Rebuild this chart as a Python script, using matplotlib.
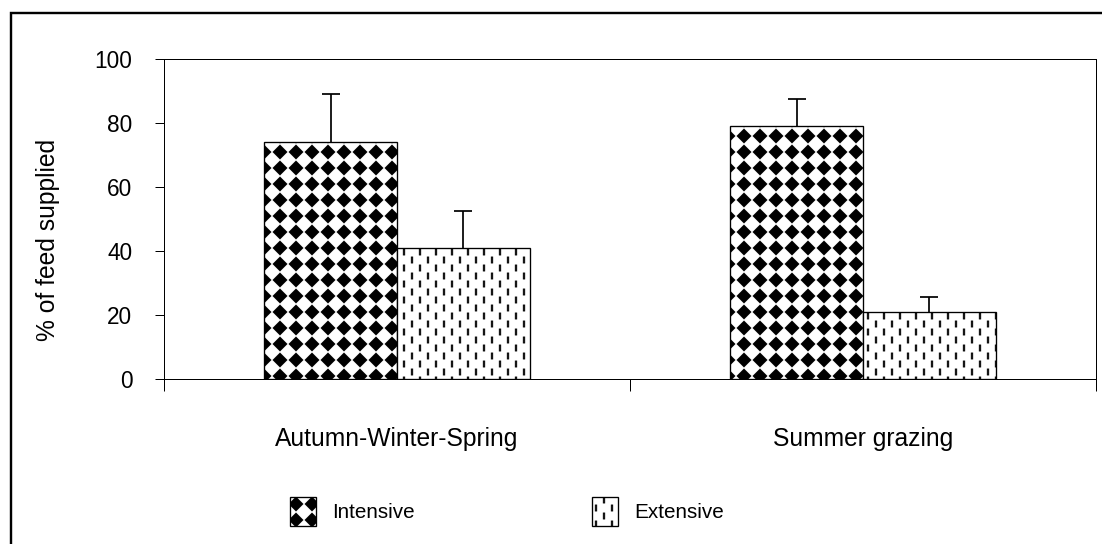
import numpy as np
import matplotlib
matplotlib.use("Agg")
import matplotlib.pyplot as plt
import matplotlib.hatch as mhatch
from matplotlib.path import Path
from matplotlib.patches import Rectangle

# ---------------- data ----------------
categories = ["Autumn-Winter-Spring", "Summer grazing"]
series_names = ["Intensive", "Extensive"]
intensive = [74.2, 79.2]
extensive = [40.9, 20.9]
intensive_err = [15.0, 8.4]
extensive_err = [11.7, 4.9]
yticks = [0, 20, 40, 60, 80, 100]


# ---------------- custom hatch patterns ----------------
class DiamondHatch(mhatch.HatchPatternBase):
    """Square grid of filled diamonds (uses the '*' character)."""
    def __init__(self, hatch, density):
        self.n = hatch.count('*') * density
        self.num_vertices = self.n * self.n * 5

    def set_vertices_and_codes(self, vertices, codes):
        n = self.n
        s = 1.0 / n
        r = 0.44 * s
        shape = np.array([[0, -r], [r, 0], [0, r], [-r, 0], [0, -r]])
        c = np.array([Path.MOVETO, Path.LINETO, Path.LINETO, Path.LINETO,
                      Path.CLOSEPOLY], dtype=Path.code_type)
        k = 0
        for i in range(n):
            for j in range(n):
                vertices[k:k + 5] = shape + [(i + 0.5) * s, (j + 0.5) * s]
                codes[k:k + 5] = c
                k += 5


class DashHatch(mhatch.HatchPatternBase):
    """Staggered short vertical dashes (uses the '.' character)."""
    def __init__(self, hatch, density):
        self.n = hatch.count('.') * density
        self.num_vertices = self.n * 2 * self.n * 5

    def set_vertices_and_codes(self, vertices, codes):
        nr = self.n
        nc = 2 * self.n
        sx = 1.0 / nc
        sy = 1.0 / nr
        hw = 0.0085
        hh = 0.032
        shape = np.array([[-hw, -hh], [hw, -hh], [hw, hh], [-hw, hh], [-hw, -hh]])
        c = np.array([Path.MOVETO, Path.LINETO, Path.LINETO, Path.LINETO,
                      Path.CLOSEPOLY], dtype=Path.code_type)
        k = 0
        for i in range(nc):
            for j in range(nr):
                cx = (i + 0.5) * sx
                cy = (j + 0.25 + 0.5 * (i % 2)) * sy
                vertices[k:k + 5] = shape + [cx, cy]
                codes[k:k + 5] = c
                k += 5


mhatch._hatch_types[:] = [DiamondHatch, DashHatch]

# ---------------- figure ----------------
DPI = 96
plt.rcParams['font.family'] = ['Liberation Sans', 'DejaVu Sans']
plt.rcParams['hatch.linewidth'] = 0.5
plt.rcParams['hatch.color'] = 'black'

fig = plt.figure(figsize=(1102 / DPI, 544 / DPI), dpi=DPI)
W, H = 1102, 544
ax = fig.add_axes([164 / W, (H - 379.3) / H, (1096 - 164) / W, (379.3 - 59.3) / H])

x = np.arange(len(categories)) + 0.5
bw = 0.285

b1 = ax.bar(x - bw / 2, intensive, bw, facecolor='white', edgecolor='black',
            linewidth=1.0, hatch='*', label=series_names[0], zorder=2)
b2 = ax.bar(x + bw / 2, extensive, bw, facecolor='white', edgecolor='black',
            linewidth=1.0, hatch='.', label=series_names[1], zorder=2)

for xs, vals, errs in [(x - bw / 2, intensive, intensive_err),
                       (x + bw / 2, extensive, extensive_err)]:
    eb = ax.errorbar(xs, vals, yerr=[np.zeros(len(xs)), errs],
                     fmt='none', ecolor='black', elinewidth=1.3, capsize=6.4,
                     capthick=1.3, zorder=3)
    eb[1][0].set_visible(False)   # no cap on the lower (zero) side

ax.set_xlim(0, len(categories))
ax.set_ylim(0, 100)
ax.set_yticks(yticks)
ax.set_yticklabels([str(v) for v in yticks])
ax.tick_params(axis='y', direction='out', length=6.75, width=0.75,
               pad=17, labelsize=17)

ax.set_xticks(x)
ax.set_xticklabels(categories)
ax.set_xticks(np.arange(len(categories) + 1), minor=True)
ax.tick_params(axis='x', which='major', length=0, pad=35.5, labelsize=18.5)
ax.tick_params(axis='x', which='minor', direction='out', length=9, width=0.75)

for sp in ax.spines.values():
    sp.set_linewidth(0.75)
    sp.set_color('black')

ax.set_ylabel("% of feed supplied", fontsize=18.5)
ax.yaxis.set_label_coords((60 - 164) / 932, 0.436)

fig.legend(handles=[b1, b2], labels=series_names, loc='center',
           bbox_to_anchor=(507 / W, (H - 511.5) / H), ncol=2, frameon=False,
           fontsize=15.5, handlelength=1.26, handleheight=1.8,
           handletextpad=0.78, columnspacing=8.55)

# outer border (partly outside the image, as in the reference)
fig.patches.append(Rectangle((11 / W, -0.1), 1.2, (H - 13) / H + 0.1,
                             transform=fig.transFigure, fill=False,
                             edgecolor='black', linewidth=1.8, clip_on=False))

fig.savefig("out.png", dpi=DPI)
